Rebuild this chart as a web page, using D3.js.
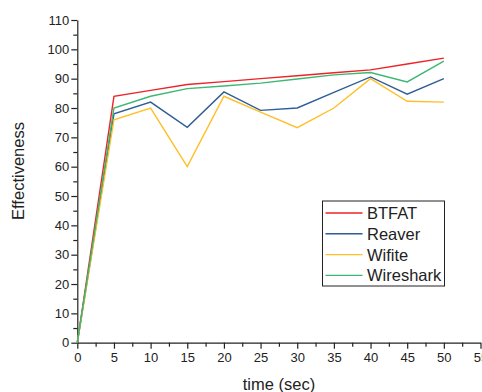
<!DOCTYPE html>
<html><head><meta charset="utf-8">
<script src="https://cdn.jsdelivr.net/npm/d3@7"></script>
<style>body{margin:0;background:#fff}svg{display:block;font-family:Arial,"Liberation Sans",sans-serif}</style>
</head><body><svg id="c" width="482" height="392"></svg>
<script>
const times = [0, 5, 10, 15, 20, 25, 30, 35, 40, 45, 50];
const btfat = [0, 84, 86, 88, 89, 90, 91, 92, 93, 95, 97];
const reaver = [0, 78, 82, 73.4, 85.5, 79.2, 80, 85.3, 90.6, 84.7, 90];
const wifite = [0, 76, 80, 60, 84, 78.6, 73.3, 80, 90, 82.3, 82];
const wireshark = [0, 80, 84, 86.6, 87.5, 88.5, 89.9, 91.3, 92.1, 88.9, 96];
const seriesNames = ["BTFAT", "Reaver", "Wifite", "Wireshark"];
const seriesColors = ["#ee2227", "#2e5d96", "#ffbf27", "#3cb873"];
const xTicks = [0, 5, 10, 15, 20, 25, 30, 35, 40, 45, 50, 55];
const yTicks = [0, 10, 20, 30, 40, 50, 60, 70, 80, 90, 100, 110];

const seriesValues = [btfat, reaver, wifite, wireshark];
const svg = d3.select("#c");
const x = d3.scaleLinear().domain([0, 55]).range([77.3, 480.5]);
const y = d3.scaleLinear().domain([0, 110]).range([342.7, 20]);

// x axis
const gx = svg.append("g").attr("transform", `translate(0,${y(0)})`);
gx.call(d3.axisBottom(x).tickValues(xTicks).tickFormat(d3.format("d")).tickSize(6).tickSizeOuter(0));
gx.append("g").call(d3.axisBottom(x).tickValues(d3.range(2.5, 55, 5)).tickFormat("").tickSize(4).tickSizeOuter(0))
  .select(".domain").remove();
// y axis
const gy = svg.append("g").attr("transform", `translate(${x(0)},0)`);
gy.call(d3.axisLeft(y).tickValues(yTicks).tickFormat(d3.format("d")).tickSize(6).tickSizeOuter(0));
gy.append("g").call(d3.axisLeft(y).tickValues(d3.range(5, 110, 10)).tickFormat("").tickSize(4).tickSizeOuter(0))
  .select(".domain").remove();
svg.selectAll(".domain, .tick line").attr("stroke", "#222").attr("stroke-width", 1.2);
svg.selectAll(".tick text").attr("font-size", 13).attr("fill", "#222").attr("font-family", "Arial, 'Liberation Sans', sans-serif");
gx.selectAll(".tick text").attr("dy", "0.95em").attr("y", 7);
gy.selectAll(".tick text").attr("x", -8);

// lines
const line = d3.line().x((d, i) => x(times[i])).y(d => y(d));
seriesValues.forEach((vals, k) => {
  svg.append("path").datum(vals).attr("d", line).attr("fill", "none")
    .attr("stroke", seriesColors[k]).attr("stroke-width", 1.4).attr("stroke-linejoin", "miter");
});

// titles
svg.append("text").attr("x", 279).attr("y", 390).attr("text-anchor", "middle")
  .attr("font-size", 16.5).attr("fill", "#222").text("time (sec)");
svg.append("text").attr("transform", "translate(24,171) rotate(-90)").attr("text-anchor", "middle")
  .attr("font-size", 16.5).attr("fill", "#222").text("Effectiveness");

// legend
const lg = svg.append("g").attr("transform", "translate(322.5,201)");
lg.append("rect").attr("width", 122).attr("height", 85).attr("fill", "#fff").attr("stroke", "#222").attr("stroke-width", 1);
seriesNames.forEach((n, k) => {
  const yy = 12 + k * 20.8;
  lg.append("line").attr("x1", 3).attr("x2", 40).attr("y1", yy).attr("y2", yy)
    .attr("stroke", seriesColors[k]).attr("stroke-width", 1.4);
  lg.append("text").attr("x", 44.5).attr("y", yy + 6).attr("font-size", 16.5).attr("fill", "#222").text(n);
});
</script></body></html>
